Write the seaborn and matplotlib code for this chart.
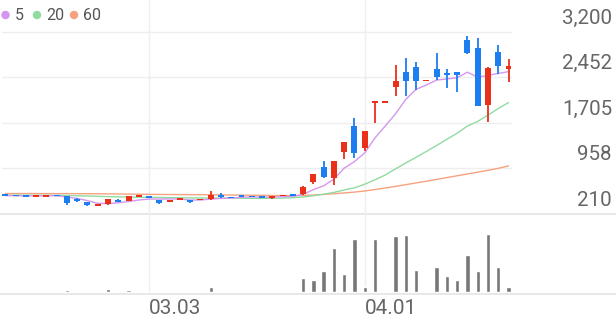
import numpy as np
import pandas as pd
import matplotlib
matplotlib.use("Agg")
import matplotlib.pyplot as plt
import matplotlib.transforms as mtransforms
from matplotlib.patches import Ellipse
from matplotlib.lines import Line2D
import seaborn as sns

# ---------------- data ----------------
opens = [535, 518, 514, 505, 505, 522, 506, 456, 407, 346,
         369, 440, 428, 489, 506, 432, 415, 448, 440, 440,
         452, 522, 489, 514, 506, 497, 481, 506, 530, 539,
         731, 987, 806, 1234, 1656, 1299, 2050, 2050, 2302, 2538,
         2630, 2395, 2592, 2522, 2538, 3069, 2933, 2001, 2877, 2592]
highs = [540, 522, 518, 520, 520, 526, 510, 470, 410, 378,
         456, 455, 430, 515, 510, 436, 442, 468, 444, 458,
         588, 555, 492, 517, 509, 499, 499, 524, 545, 665,
         875, 1086, 1080, 1400, 1792, 1578, 2050, 2050, 2653, 2768,
         2702, 2405, 2850, 2592, 2545, 3139, 3097, 2620, 2987, 2752]
lows = [500, 502, 500, 500, 500, 502, 358, 415, 345, 340,
        365, 400, 425, 486, 470, 378, 412, 445, 395, 437,
        448, 473, 470, 486, 486, 478, 456, 503, 500, 530,
        695, 800, 686, 1114, 1130, 1245, 1710, 2050, 2149, 2154,
        2247, 2395, 2412, 2285, 2219, 2834, 1980, 1727, 2510, 2374]
closes = [506, 506, 504, 515, 515, 506, 396, 424, 353, 374,
          452, 407, 506, 514, 473, 383, 440, 465, 399, 456,
          522, 489, 473, 489, 489, 481, 497, 522, 506, 659,
          867, 813, 1076, 1398, 1207, 1574, 2050, 2050, 2400, 2395,
          2395, 2405, 2456, 2494, 2494, 2850, 1989, 2614, 2646, 2646]
volumes = [3, 3, 3, 3, 3, 3, 23, 10, 15, 7,
           30, 10, 23, 7, 3, 4, 4, 4, 4, 5,
           53, 15, 4, 4, 4, 4, 4, 5, 10, 140,
           120, 213, 443, 183, 533, 53, 533, 2, 560, 570,
           220, 2, 250, 160, 127, 367, 210, 580, 250, 50]
ma5 = [512, 510, 508, 509, 509, 510, 490, 465, 430, 385,
       380, 395, 415, 440, 455, 455, 458, 455, 440, 440,
       455, 466, 470, 484, 491, 486, 487, 496, 500, 533,
       610, 673, 784, 963, 1072, 1214, 1461, 1656, 1856, 2094,
       2258, 2329, 2410, 2429, 2449, 2540, 2457, 2488, 2519, 2549]
ma20 = [520, 519, 518, 517, 517, 516, 514, 510, 505, 500,
        496, 492, 489, 486, 484, 481, 479, 477, 475, 473,
        472, 471, 470, 469, 468, 467, 469, 472, 478, 490,
        510, 535, 565, 605, 640, 700, 772, 851, 951, 1048,
        1142, 1237, 1336, 1437, 1537, 1655, 1730, 1835, 1942, 2041]
ma60 = [546, 546, 546, 546, 545, 545, 545, 544, 543, 542,
        541, 539, 537, 535, 533, 531, 530, 529, 528, 527,
        526, 524, 522, 520, 518, 516, 514, 513, 512, 515,
        522, 531, 543, 556, 570, 588, 612, 637, 664, 692,
        720, 749, 778, 808, 838, 868, 897, 927, 960, 1000]
y_ticks = [3200, 2452.5, 1705, 957.5, 210]
y_tick_labels = ["3,200", "2,452", "1,705", "958", "210"]
x_tick_pos = [14, 35]
x_tick_labels = ["03.03", "04.01"]
legend_labels = ["5", "20", "60"]

# ---------------- style ----------------
sns.set_style("white")
plt.rcParams['font.family'] = ['Roboto', 'DejaVu Sans']

RED = "#ea3019"
BLUE = "#1c7ef0"
C5, C20, C60 = "#d596f0", "#90dca0", "#f6a27e"
GRID = "#eeeeee"
TXT = "#666666"

W, H = 616, 321
fig = plt.figure(figsize=(W / 100, H / 100), dpi=100)
fig.patch.set_facecolor("white")


def box(x0, y0, x1, y1):
    return [x0 / W, 1 - y1 / H, (x1 - x0) / W, (y1 - y0) / H]


ax = fig.add_axes(box(2, 0, 512, 214))
axv = fig.add_axes(box(2, 214, 512, 293))

df = pd.DataFrame({"i": np.arange(len(closes)), "o": opens, "h": highs,
                   "l": lows, "c": closes, "v": volumes,
                   "ma5": ma5, "ma20": ma20, "ma60": ma60})

px = 2990 / 182.0  # price per pixel
ylo = 210
yhi = 210 + 214 * px
minh = 1.6 * px

# grid
for yv in y_ticks[:-1]:
    ax.axhline(yv, color=GRID, lw=1, zorder=0)
for xv in x_tick_pos:
    ax.axvline(xv, color=GRID, lw=1, zorder=0)
    axv.axvline(xv, color=GRID, lw=1, zorder=0)

# MA lines
sns.lineplot(data=df, x="i", y="ma60", ax=ax, color=C60, lw=1.0, zorder=2)
sns.lineplot(data=df, x="i", y="ma20", ax=ax, color=C20, lw=1.0, zorder=2)
sns.lineplot(data=df, x="i", y="ma5", ax=ax, color=C5, lw=1.0, zorder=2)

# candles
cols = [RED if c >= o else BLUE for o, c in zip(df.o, df.c)]
ax.vlines(df.i, df.l, df.h, colors=cols, lw=1.3, zorder=3)
bot = np.minimum(df.o, df.c).astype(float)
hgt = np.abs(df.c - df.o).astype(float)
small = hgt < minh
mid = (df.o + df.c) / 2.0
bot = np.where(small, mid - minh / 2, bot)
hgt = np.where(small, minh, hgt)
ax.bar(df.i, hgt, bottom=bot, width=0.58, color=cols, zorder=4, linewidth=0)

# volume
sns.barplot(data=df, x="i", y="v", ax=axv, color="#777777", width=0.42,
            native_scale=True, errorbar=None, saturation=1, zorder=2)

for a in (ax, axv):
    a.set_xlim(-0.321, 49.34)
    a.set_xlabel("")
    a.set_ylabel("")
    a.set_xticks([])
    a.set_yticks([])
    for s in a.spines.values():
        s.set_visible(False)
    a.patch.set_alpha(0)
ax.set_ylim(ylo, yhi)
axv.set_ylim(-8, 782)

# full width base lines (behind the axes content)
for yp in (214, 293.5):
    fig.add_artist(Line2D([0, 1], [1 - yp / H] * 2, transform=fig.transFigure,
                          color="#e6e6e6", lw=1.3, zorder=-1))

# y labels (above gridlines, right side)
ytrans = mtransforms.offset_copy(
    mtransforms.blended_transform_factory(fig.transFigure, ax.transData),
    fig=fig, y=13.7, units="dots")
for yv, lab in zip(y_ticks, y_tick_labels):
    ax.text(612 / W, yv, lab, transform=ytrans, ha="right", va="center",
            fontsize=14.8, color=TXT)

# x labels
xtrans = mtransforms.blended_transform_factory(axv.transData, fig.transFigure)
for xv, lab in zip(x_tick_pos, x_tick_labels):
    axv.text(xv, 1 - 309 / H, lab, transform=xtrans, ha="left", va="center",
             fontsize=15, color=TXT)

# legend
dots_x = [5.5, 37, 74]
text_x = [14.5, 46, 82.5]
for dx, tx, lab, col in zip(dots_x, text_x, legend_labels, [C5, C20, C60]):
    fig.add_artist(Ellipse((dx / W, 1 - 15 / H), 8.5 / W, 8.5 / H,
                           transform=fig.transFigure, color=col, lw=0))
    fig.text(tx / W, 1 - 15 / H, lab, ha="left", va="center",
             fontsize=11.5, color="#555555")

fig.savefig("out.png", dpi=100)
